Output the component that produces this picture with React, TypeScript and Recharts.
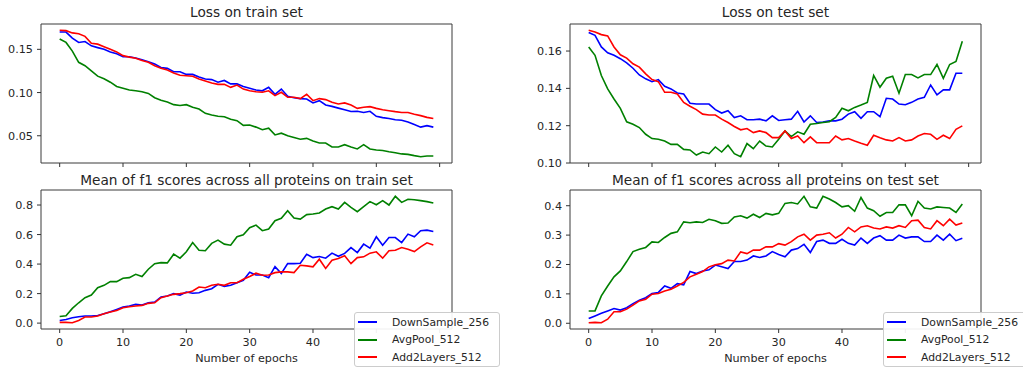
import React from 'react';
import { LineChart, Line, XAxis, YAxis, ReferenceArea, Legend } from 'recharts';

const EPOCHS = Array.from({ length: 60 }, (_, i) => i);
const SERIES_NAMES = ['DownSample_256', 'AvgPool_512', 'Add2Layers_512'];
const SERIES_COLORS = ['#0000ff', '#008000', '#ff0000'];
const X_TICKS = [0, 10, 20, 30, 40, 50, 60];

// Loss on train set
const trainLossDown = [
  0.170, 0.170, 0.163, 0.158, 0.159, 0.154, 0.152, 0.150, 0.147, 0.145,
  0.1415, 0.1415, 0.140, 0.138, 0.1357, 0.133, 0.129, 0.128, 0.124, 0.124,
  0.121, 0.121, 0.118, 0.1157, 0.115, 0.112, 0.114, 0.110, 0.110, 0.107,
  0.105, 0.103, 0.102, 0.106, 0.098, 0.104, 0.0956, 0.094, 0.093, 0.0925,
  0.088, 0.0906, 0.0856, 0.084, 0.082, 0.080, 0.078, 0.0783, 0.077, 0.0783,
  0.0725, 0.071, 0.070, 0.0686, 0.068, 0.066, 0.063, 0.060, 0.0617, 0.060,
];
const trainLossAvg = [
  0.162, 0.158, 0.148, 0.135, 0.131, 0.125, 0.119, 0.116, 0.112, 0.107,
  0.105, 0.103, 0.102, 0.101, 0.099, 0.094, 0.091, 0.089, 0.086, 0.085,
  0.086, 0.083, 0.081, 0.076, 0.074, 0.0725, 0.072, 0.069, 0.0675, 0.062,
  0.0625, 0.060, 0.057, 0.0587, 0.051, 0.053, 0.050, 0.048, 0.046, 0.047,
  0.044, 0.0416, 0.0416, 0.037, 0.037, 0.0397, 0.037, 0.0347, 0.0397, 0.0347,
  0.0335, 0.033, 0.0316, 0.0304, 0.029, 0.0285, 0.027, 0.0258, 0.0266, 0.0266,
];
const trainLossAdd = [
  0.172, 0.1716, 0.169, 0.168, 0.165, 0.157, 0.156, 0.153, 0.150, 0.147,
  0.1427, 0.141, 0.1396, 0.137, 0.135, 0.131, 0.128, 0.126, 0.1226, 0.120,
  0.1195, 0.1188, 0.1157, 0.1133, 0.111, 0.1095, 0.1095, 0.106, 0.1087, 0.104,
  0.102, 0.101, 0.1003, 0.102, 0.0964, 0.1003, 0.0945, 0.0945, 0.093, 0.098,
  0.0906, 0.093, 0.0918, 0.0887, 0.0867, 0.088, 0.0856, 0.0817, 0.083, 0.0837,
  0.0817, 0.080, 0.079, 0.0779, 0.077, 0.077, 0.075, 0.0733, 0.0713, 0.070,
];

// Loss on test set
const testLossDown = [
  0.1699, 0.1684, 0.1622, 0.1591, 0.1577, 0.1559, 0.1537, 0.1508, 0.1472, 0.1451,
  0.1436, 0.1447, 0.1411, 0.1397, 0.1375, 0.137, 0.132, 0.1316, 0.1316, 0.1316,
  0.1286, 0.1268, 0.128, 0.1244, 0.1253, 0.1232, 0.1232, 0.1235, 0.1226, 0.1253,
  0.1228, 0.1232, 0.1235, 0.1277, 0.122, 0.1253, 0.1217, 0.122, 0.1226, 0.1226,
  0.1235, 0.1262, 0.1275, 0.1239, 0.1275, 0.1275, 0.1248, 0.1347, 0.1343, 0.1316,
  0.1312, 0.1325, 0.1343, 0.1352, 0.1418, 0.1365, 0.1392, 0.1392, 0.1481, 0.1481,
];
const testLossAvg = [
  0.1622, 0.1577, 0.1469, 0.1397, 0.1343, 0.1293, 0.1221, 0.1208, 0.119, 0.1154,
  0.1131, 0.1127, 0.1118, 0.110, 0.110, 0.1073, 0.107, 0.1043, 0.1059, 0.105,
  0.1086, 0.1059, 0.1095, 0.105, 0.1034, 0.1104, 0.1077, 0.1118, 0.1091, 0.1086,
  0.1127, 0.1172, 0.1142, 0.1167, 0.1154, 0.1208, 0.1212, 0.1217, 0.1221, 0.1244,
  0.1293, 0.128, 0.1298, 0.1311, 0.1325, 0.1469, 0.1406, 0.1454, 0.1465, 0.1374,
  0.1474, 0.1474, 0.1456, 0.1474, 0.1474, 0.1528, 0.1454, 0.1528, 0.1544, 0.1652,
];
const testLossAdd = [
  0.1711, 0.1702, 0.1688, 0.1681, 0.1622, 0.158, 0.1562, 0.1532, 0.1514, 0.1478,
  0.1447, 0.1436, 0.1379, 0.1379, 0.137, 0.1325, 0.1304, 0.1286, 0.1262, 0.1257,
  0.1257, 0.1235, 0.1217, 0.1196, 0.1178, 0.1185, 0.1163, 0.1172, 0.1163, 0.1136,
  0.1136, 0.1172, 0.1131, 0.1145, 0.1109, 0.114, 0.1109, 0.1109, 0.1109, 0.1145,
  0.1124, 0.1131, 0.1118, 0.1106, 0.1095, 0.1149, 0.1136, 0.1124, 0.1118, 0.1136,
  0.1118, 0.1124, 0.1145, 0.1158, 0.1154, 0.1127, 0.1149, 0.1131, 0.1181, 0.1199,
];

// Mean f1, train set
const trainF1Down = [
  0.018, 0.025, 0.036, 0.043, 0.048, 0.048, 0.052, 0.063, 0.077, 0.093,
  0.109, 0.116, 0.127, 0.122, 0.138, 0.143, 0.177, 0.184, 0.200, 0.190,
  0.211, 0.202, 0.206, 0.222, 0.233, 0.263, 0.249, 0.256, 0.274, 0.290,
  0.345, 0.326, 0.326, 0.308, 0.383, 0.336, 0.403, 0.403, 0.406, 0.467,
  0.444, 0.451, 0.440, 0.474, 0.453, 0.472, 0.512, 0.478, 0.535, 0.508,
  0.585, 0.528, 0.580, 0.580, 0.546, 0.603, 0.585, 0.626, 0.630, 0.621,
];
const trainF1Avg = [
  0.045, 0.050, 0.100, 0.138, 0.172, 0.190, 0.240, 0.256, 0.281, 0.281,
  0.304, 0.308, 0.331, 0.315, 0.365, 0.403, 0.410, 0.408, 0.467, 0.440,
  0.483, 0.546, 0.494, 0.490, 0.540, 0.562, 0.535, 0.528, 0.585, 0.598,
  0.646, 0.664, 0.626, 0.637, 0.694, 0.710, 0.762, 0.712, 0.705, 0.735,
  0.739, 0.746, 0.773, 0.789, 0.773, 0.818, 0.784, 0.755, 0.789, 0.823,
  0.802, 0.830, 0.800, 0.859, 0.818, 0.839, 0.836, 0.830, 0.823, 0.814,
];
const trainF1Add = [
  0.005, 0.005, 0.003, 0.018, 0.041, 0.041, 0.048, 0.063, 0.075, 0.086,
  0.104, 0.111, 0.116, 0.120, 0.134, 0.138, 0.172, 0.184, 0.195, 0.200,
  0.206, 0.218, 0.245, 0.240, 0.256, 0.263, 0.256, 0.274, 0.274, 0.297,
  0.316, 0.338, 0.324, 0.326, 0.342, 0.347, 0.347, 0.342, 0.392, 0.388,
  0.381, 0.433, 0.370, 0.426, 0.438, 0.456, 0.403, 0.444, 0.449, 0.474,
  0.483, 0.440, 0.490, 0.494, 0.512, 0.501, 0.485, 0.517, 0.544, 0.530,
];

// Mean f1, test set
const testF1Down = [
  0.016, 0.025, 0.034, 0.042, 0.050, 0.045, 0.053, 0.067, 0.078, 0.087,
  0.101, 0.105, 0.127, 0.119, 0.135, 0.131, 0.176, 0.169, 0.178, 0.182,
  0.198, 0.192, 0.186, 0.210, 0.210, 0.215, 0.229, 0.224, 0.229, 0.244,
  0.234, 0.226, 0.249, 0.254, 0.269, 0.241, 0.278, 0.283, 0.272, 0.272,
  0.286, 0.272, 0.266, 0.290, 0.272, 0.290, 0.298, 0.283, 0.283, 0.300,
  0.290, 0.294, 0.294, 0.278, 0.278, 0.300, 0.283, 0.303, 0.281, 0.289,
];
const testF1Avg = [
  0.042, 0.042, 0.093, 0.127, 0.158, 0.178, 0.210, 0.244, 0.252, 0.258,
  0.277, 0.275, 0.292, 0.306, 0.311, 0.345, 0.342, 0.345, 0.343, 0.354,
  0.349, 0.340, 0.341, 0.362, 0.366, 0.358, 0.371, 0.360, 0.374, 0.369,
  0.374, 0.408, 0.411, 0.406, 0.432, 0.396, 0.392, 0.432, 0.423, 0.411,
  0.396, 0.400, 0.381, 0.428, 0.392, 0.383, 0.364, 0.377, 0.377, 0.403,
  0.403, 0.366, 0.415, 0.392, 0.389, 0.396, 0.394, 0.392, 0.377, 0.406,
];
const testF1Add = [
  0.002, 0.003, 0.002, 0.014, 0.039, 0.039, 0.048, 0.062, 0.076, 0.082,
  0.099, 0.101, 0.110, 0.116, 0.127, 0.139, 0.158, 0.167, 0.176, 0.192,
  0.199, 0.203, 0.215, 0.212, 0.243, 0.237, 0.249, 0.249, 0.260, 0.260,
  0.271, 0.266, 0.278, 0.294, 0.303, 0.283, 0.300, 0.303, 0.308, 0.290,
  0.303, 0.326, 0.311, 0.328, 0.332, 0.324, 0.321, 0.328, 0.324, 0.332,
  0.326, 0.349, 0.351, 0.326, 0.321, 0.349, 0.332, 0.354, 0.334, 0.341,
];

const FONT = '"DejaVu Sans", sans-serif';
const TEXT_COLOR = '#262626';
const TICK_FONT = 11.2;
// x tick labels at/after this value sit under the legend in the bottom row
const HIDDEN_FROM = 50;

// matplotlib-style 5% autoscale margin
function padDomain(values: number[]): [number, number] {
  const lo = Math.min(...values);
  const hi = Math.max(...values);
  const pad = (hi - lo) * 0.05;
  return [lo - pad, hi + pad];
}

const X_DOMAIN = padDomain(EPOCHS);

function renderLegend() {
  return (
    <div
      style={{
        width: 146,
        height: 55,
        boxSizing: 'border-box',
        border: '1px solid #cccccc',
        borderRadius: 3,
        background: 'rgba(255,255,255,0.92)',
        paddingTop: 0.5,
        fontFamily: FONT,
        fontSize: 10.8,
        color: TEXT_COLOR,
      }}
    >
      {SERIES_NAMES.map((name, i) => (
        <div key={name} style={{ display: 'flex', alignItems: 'center', height: 17.5 }}>
          <div style={{ width: 19, height: 1.6, background: SERIES_COLORS[i], marginLeft: 3, marginRight: 15 }} />
          <span style={{ whiteSpace: 'nowrap' }}>{name}</span>
        </div>
      ))}
    </div>
  );
}

type PanelProps = {
  title: string;
  series: number[][];
  yTicks: number[];
  decimals: number;
  left: number;
  top: number;
  width: number;
  height: number;
  plotTop: number;
  yAxisWidth: number;
  rightMargin: number;
  xAxisHeight: number;
  titleTop: number;
  bottomRow: boolean;
  legendLeft?: number;
  legendTop?: number;
};

function Panel(p: PanelProps) {
  const rows = EPOCHS.map((e, i) => ({
    epoch: e,
    s0: p.series[0][i],
    s1: p.series[1][i],
    s2: p.series[2][i],
  }));
  const yDomain = padDomain(p.series.flat());
  const plotWidth = p.width - p.yAxisWidth - p.rightMargin;

  return (
    <div style={{ position: 'absolute', left: p.left, top: p.top, width: p.width, height: p.height }}>
      <div
        style={{
          position: 'absolute',
          left: p.yAxisWidth,
          width: plotWidth,
          top: p.titleTop,
          lineHeight: '16px',
          textAlign: 'center',
          fontSize: 13.7,
          color: TEXT_COLOR,
          whiteSpace: 'nowrap',
        }}
      >
        {p.title}
      </div>
      <LineChart
        width={p.width}
        height={p.height}
        data={rows}
        margin={{ top: p.plotTop, right: p.rightMargin, bottom: 0, left: 0 }}
      >
        <XAxis
          dataKey="epoch"
          type="number"
          domain={X_DOMAIN}
          ticks={X_TICKS}
          allowDataOverflow
          height={p.xAxisHeight}
          axisLine={false}
          tickSize={4}
          tickMargin={5}
          tickLine={{ stroke: '#333' }}
          tick={{ fontSize: TICK_FONT, fill: TEXT_COLOR }}
          tickFormatter={(v: number) => (p.bottomRow && v < HIDDEN_FROM ? String(v) : '')}
          label={
            p.bottomRow
              ? { value: 'Number of epochs', position: 'insideBottom', offset: 6, fill: TEXT_COLOR, fontSize: TICK_FONT }
              : undefined
          }
        />
        <YAxis
          type="number"
          domain={yDomain}
          ticks={p.yTicks}
          allowDataOverflow
          width={p.yAxisWidth}
          axisLine={false}
          tickSize={4}
          tickMargin={4}
          tickLine={{ stroke: '#333' }}
          tick={{ fontSize: TICK_FONT, fill: TEXT_COLOR }}
          tickFormatter={(v: number) => v.toFixed(p.decimals)}
        />
        {SERIES_NAMES.map((name, i) => (
          <Line
            key={name}
            dataKey={'s' + i}
            name={name}
            stroke={SERIES_COLORS[i]}
            strokeWidth={1.6}
            dot={false}
            activeDot={false}
            isAnimationActive={false}
          />
        ))}
        <ReferenceArea
          x1={X_DOMAIN[0]}
          x2={X_DOMAIN[1]}
          y1={yDomain[0]}
          y2={yDomain[1]}
          fill="none"
          stroke="#3a3a3a"
          strokeWidth={1}
        />
        {p.bottomRow && (
          <Legend
            layout="vertical"
            align="center"
            verticalAlign="middle"
            content={renderLegend}
            wrapperStyle={{ left: p.legendLeft, top: p.legendTop, width: 146 }}
          />
        )}
      </LineChart>
    </div>
  );
}

export default function App() {
  return (
    <div
      style={{
        position: 'fixed',
        left: 0,
        top: 0,
        width: 1023,
        height: 368,
        overflow: 'hidden',
        background: '#ffffff',
        fontFamily: FONT,
      }}
    >
      <Panel
        title="Loss on train set"
        series={[trainLossDown, trainLossAvg, trainLossAdd]}
        yTicks={[0.05, 0.1, 0.15]}
        decimals={2}
        left={0}
        top={0}
        width={511}
        height={184}
        plotTop={24}
        yAxisWidth={41}
        rightMargin={59}
        xAxisHeight={21}
        titleTop={4}
        bottomRow={false}
      />
      <Panel
        title="Loss on test set"
        series={[testLossDown, testLossAvg, testLossAdd]}
        yTicks={[0.1, 0.12, 0.14, 0.16]}
        decimals={2}
        left={511}
        top={0}
        width={512}
        height={184}
        plotTop={24}
        yAxisWidth={59}
        rightMargin={42}
        xAxisHeight={21}
        titleTop={4}
        bottomRow={false}
      />
      <Panel
        title="Mean of f1 scores across all proteins on train set"
        series={[trainF1Down, trainF1Avg, trainF1Add]}
        yTicks={[0, 0.2, 0.4, 0.6, 0.8]}
        decimals={1}
        left={0}
        top={184}
        width={511}
        height={184}
        plotTop={6}
        yAxisWidth={41}
        rightMargin={59}
        xAxisHeight={39}
        titleTop={-12}
        bottomRow={true}
        legendLeft={354}
        legendTop={128}
      />
      <Panel
        title="Mean of f1 scores across all proteins on test set"
        series={[testF1Down, testF1Avg, testF1Add]}
        yTicks={[0, 0.1, 0.2, 0.3, 0.4]}
        decimals={1}
        left={511}
        top={184}
        width={512}
        height={184}
        plotTop={6}
        yAxisWidth={59}
        rightMargin={42}
        xAxisHeight={39}
        titleTop={-12}
        bottomRow={true}
        legendLeft={372}
        legendTop={128}
      />
    </div>
  );
}
